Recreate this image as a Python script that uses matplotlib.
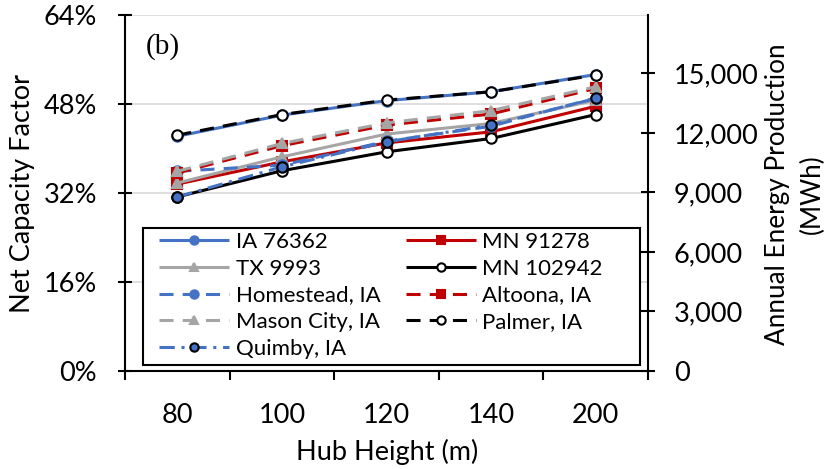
import matplotlib
matplotlib.use("Agg")
import matplotlib.pyplot as plt
from matplotlib.patches import Rectangle
from matplotlib.ticker import FixedLocator, FuncFormatter

# Hub heights (categorical x axis)
hub_heights = ["80", "100", "120", "140", "200"]

# Net capacity factor (%) per site / turbine
ia_76362 = [42.2, 46.0, 48.6, 50.2, 53.3]
mn_91278 = [33.6, 37.6, 41.0, 43.0, 47.6]
tx_9993 = [33.8, 38.5, 42.6, 44.5, 48.7]
mn_102942 = [31.3, 36.0, 39.4, 41.8, 46.1]
homestead = [35.9, 37.0, 41.3, 44.0, 49.1]
altoona = [35.6, 40.5, 44.2, 46.2, 50.8]
mason_city = [35.9, 40.9, 44.6, 46.8, 51.1]
palmer = [42.4, 46.1, 48.7, 50.2, 53.2]
quimby = [31.3, 36.7, 41.2, 44.2, 49.0]

# Axis scales
cf_ticks = [0, 16, 32, 48, 64]
aep_ticks = [0, 3000, 6000, 9000, 12000, 15000]
rated_mw = 3.2
hours_per_year = 8760

BLUE = "#4472C4"
RED = "#C00000"
GREY = "#A5A5A5"
BLACK = "#000000"

plt.rcParams["font.family"] = ["Lato", "DejaVu Sans"]
FS = 19.5

W, H = 830, 469
fig = plt.figure(figsize=(W / 100, H / 100), dpi=100)
ax = fig.add_axes([125 / W, 1 - 371 / H, (648 - 125) / W, (371 - 15) / H])

x = list(range(len(hub_heights)))
lw = 2.2
dash = (4.6, 3.0)
ms = 7.5

series = [
    ("IA 76362", ia_76362, dict(color=BLUE, ls="-", marker="o", mfc=BLUE, mec=BLUE)),
    ("MN 91278", mn_91278, dict(color=RED, ls="-", marker="s", mfc=RED, mec=RED)),
    ("TX 9993", tx_9993, dict(color=GREY, ls="-", marker="^", mfc=GREY, mec=GREY)),
    ("MN 102942", mn_102942, dict(color=BLACK, ls="-", marker="o", mfc="white", mec=BLACK)),
    ("Homestead, IA", homestead, dict(color=BLUE, dashes=dash, marker="o", mfc=BLUE, mec=BLUE)),
    ("Altoona, IA", altoona, dict(color=RED, dashes=dash, marker="s", mfc=RED, mec=RED)),
    ("Mason City, IA", mason_city, dict(color=GREY, dashes=dash, marker="^", mfc=GREY, mec=GREY)),
    ("Palmer, IA", palmer, dict(color=BLACK, dashes=dash, marker="o", mfc="white", mec=BLACK)),
    ("Quimby, IA", quimby, dict(color=BLUE, dashes=(5.0, 2.2, 1.0, 2.2), marker="o", mfc=BLUE, mec=BLACK)),
]

handles = {}
for i, (name, vals, style) in enumerate(series):
    (h,) = ax.plot(x, vals, lw=lw, ms=ms, mew=1.5, label=name, zorder=3 + i * 0.1,
                   solid_capstyle="butt", dash_capstyle="butt", **style)
    handles[name] = h

ax.set_xlim(-0.5, len(hub_heights) - 0.5)
ax.set_ylim(cf_ticks[0], cf_ticks[-1])

# Category labels at centres, tick marks at category boundaries
ax.set_xticks(x)
ax.set_xticklabels(hub_heights)
ax.xaxis.set_minor_locator(FixedLocator([i - 0.5 for i in range(len(hub_heights) + 1)]))
ax.tick_params(axis="x", which="major", length=0, pad=23, labelsize=FS)
ax.tick_params(axis="x", which="minor", length=6.5, width=1.5, direction="out", color=BLACK)

ax.set_yticks(cf_ticks)
ax.yaxis.set_major_formatter(FuncFormatter(lambda v, p: f"{v:.0f}%"))
ax.tick_params(axis="y", which="major", length=10, width=1.5, direction="inout", pad=15, labelsize=FS)

ax.yaxis.grid(True, color="#D9D9D9", lw=1.2, zorder=0)
ax.set_axisbelow(True)

for s in ["top", "right"]:
    ax.spines[s].set_visible(False)
for s in ["left", "bottom"]:
    ax.spines[s].set_linewidth(1.5)
    ax.spines[s].set_color(BLACK)

# Secondary axis: annual energy production
ax2 = ax.twinx()
ax2.set_ylim(0, cf_ticks[-1] / 100 * rated_mw * hours_per_year)
ax2.set_yticks(aep_ticks)
ax2.yaxis.set_major_formatter(FuncFormatter(lambda v, p: f"{v:,.0f}"))
ax2.tick_params(axis="y", length=10, width=1.5, direction="inout", pad=13.5, labelsize=FS)
for s in ["top", "left", "bottom"]:
    ax2.spines[s].set_visible(False)
ax2.spines["right"].set_linewidth(1.5)

# Axis titles
fig.text(23 / W, 1 - 193 / H, "Net Capacity Factor", rotation=90, ha="center", va="center", size=FS)
fig.text(387 / W, 1 - 452 / H, "Hub Height (m)", ha="center", va="center", size=FS)
fig.text(795 / W, 1 - 194 / H, "Annual Energy Production\n(MWh)", rotation=90,
         ha="center", va="center", ma="center", size=18.8, linespacing=1.45)

fig.text(146 / W, 1 - 47 / H, "(b)", ha="left", va="center", size=21,
         family=["Liberation Serif", "DejaVu Serif"])

# Legend filled row by row across two columns, inside a boxed panel
frame = Rectangle((143 / W, 1 - 365 / H), (640 - 143) / W, (365 - 228) / H,
                  transform=fig.transFigure, facecolor="white", edgecolor=BLACK,
                  lw=1.5, zorder=9, clip_on=False)
ax.add_patch(frame)

order = ["IA 76362", "TX 9993", "Homestead, IA", "Mason City, IA", "Quimby, IA",
         "MN 91278", "MN 102942", "Altoona, IA", "Palmer, IA"]
leg = ax.legend([handles[n] for n in order], order, ncol=2,
                loc="upper left", bbox_to_anchor=(159 / W, 1 - 232 / H),
                bbox_transform=fig.transFigure,
                fontsize=16, frameon=False,
                handlelength=3.15, handletextpad=0.3, labelspacing=0.30, borderpad=0,
                columnspacing=1.13, markerscale=0.8, borderaxespad=0)
leg.set_zorder(10)

fig.savefig("out.png", dpi=100)
